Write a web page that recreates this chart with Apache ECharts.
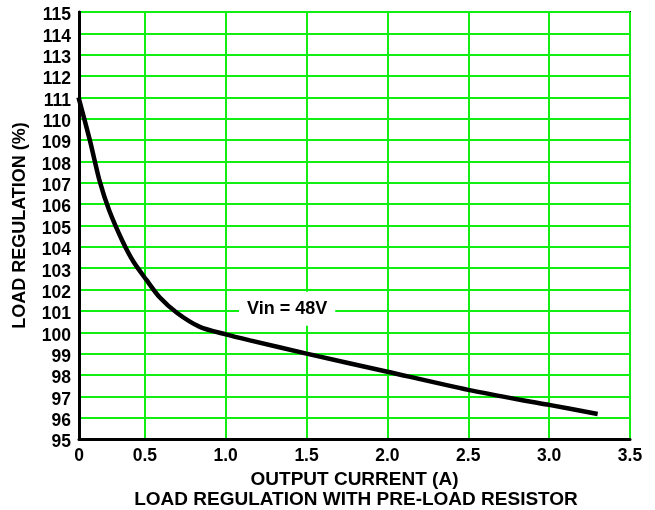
<!DOCTYPE html>
<html>
<head>
<meta charset="utf-8">
<title>Load Regulation</title>
<script src="https://cdn.jsdelivr.net/npm/echarts@6/dist/echarts.min.js"></script>
<style>
  html, body { margin: 0; padding: 0; background: #fff; }
  #main { width: 655px; height: 510px; }
</style>
</head>
<body>
<div id="main"></div>
<script>
// values (x on the grid-line scale)
var currentA = [0.09, 0.16, 0.22, 0.28, 0.36, 0.43, 0.51, 0.59, 0.70, 0.84, 1.00, 1.15, 1.50, 2.00, 2.50, 2.86, 3.00, 3.30];
var regulation = [111.0, 109.0, 107.1, 105.7, 104.3, 103.3, 102.45, 101.65, 100.9, 100.25, 99.9, 99.62, 99.0, 98.15, 97.3, 96.78, 96.6, 96.17];
var xMin = 0.093, xMax = 3.5;
var yMin = 95, yMax = 115;
var noteText = 'Vin = 48V';
var notePos = [1.38, 101.1];

var points = [];
for (var i = 0; i < currentA.length; i++) {
    points.push([currentA[i], regulation[i]]);
}

var myChart = echarts.init(document.getElementById('main'));
var font = '"Liberation Sans", Arial, Helvetica, sans-serif';

option = {
    animation: false,
    title: {
        text: 'LOAD REGULATION WITH PRE-LOAD RESISTOR',
        left: 351,
        textAlign: 'center',
        top: 485,
        textStyle: { fontFamily: font, fontWeight: 'bold', fontSize: 19, color: '#000' }
    },
    grid: {
        left: 79,
        right: 25,
        top: 12,
        bottom: 71,
        show: true,
        borderColor: '#000',
        borderWidth: 2,
        backgroundColor: 'transparent'
    },
    xAxis: {
        type: 'value',
        min: xMin,
        max: xMax,
        minInterval: 0.5,
        maxInterval: 0.5,
        name: 'OUTPUT CURRENT (A)',
        nameLocation: 'middle',
        nameGap: 20,
        nameTextStyle: { fontFamily: font, fontWeight: 'bold', fontSize: 19, color: '#000', verticalAlign: 'top' },
        axisLine: { show: true, lineStyle: { color: '#000', width: 3 } },
        axisTick: { show: false },
        axisLabel: {
            margin: 8,
            fontFamily: font, fontWeight: 'bold', fontSize: 17.5, color: '#000',
            formatter: function (v) { return v < 0.2 ? '0' : v.toFixed(1); }
        },
        splitLine: { show: true, lineStyle: { color: '#11ee11', width: 2 } }
    },
    yAxis: {
        type: 'value',
        min: yMin,
        max: yMax,
        interval: 1,
        name: 'LOAD REGULATION (%)',
        nameLocation: 'middle',
        nameGap: 50,
        nameTextStyle: { fontFamily: font, fontWeight: 'bold', fontSize: 18, color: '#000' },
        axisLine: { show: true, lineStyle: { color: '#000', width: 3 } },
        axisTick: { show: false },
        axisLabel: {
            margin: 8,
            formatter: '{v|{value}}',
            rich: {
                v: {
                    padding: [7, 0, 0, 0],
                    fontFamily: font, fontWeight: 'bold', fontSize: 17.5, color: '#000'
                }
            }
        },
        splitLine: { show: true, lineStyle: { color: '#11ee11', width: 2 } }
    },
    series: [
        {
            type: 'line',
            data: points,
            smooth: 0.25,
            showSymbol: false,
            lineStyle: { color: '#000', width: 4.5 },
            markPoint: {
                symbol: 'rect',
                symbolSize: 0,
                data: [{ coord: notePos }],
                label: {
                    show: true,
                    position: 'inside',
                    formatter: noteText,
                    backgroundColor: '#fff',
                    padding: [8, 8, 8, 8],
                    fontFamily: font, fontWeight: 'bold', fontSize: 18, color: '#000'
                }
            }
        }
    ]
};
myChart.setOption(option);
</script>
</body>
</html>
